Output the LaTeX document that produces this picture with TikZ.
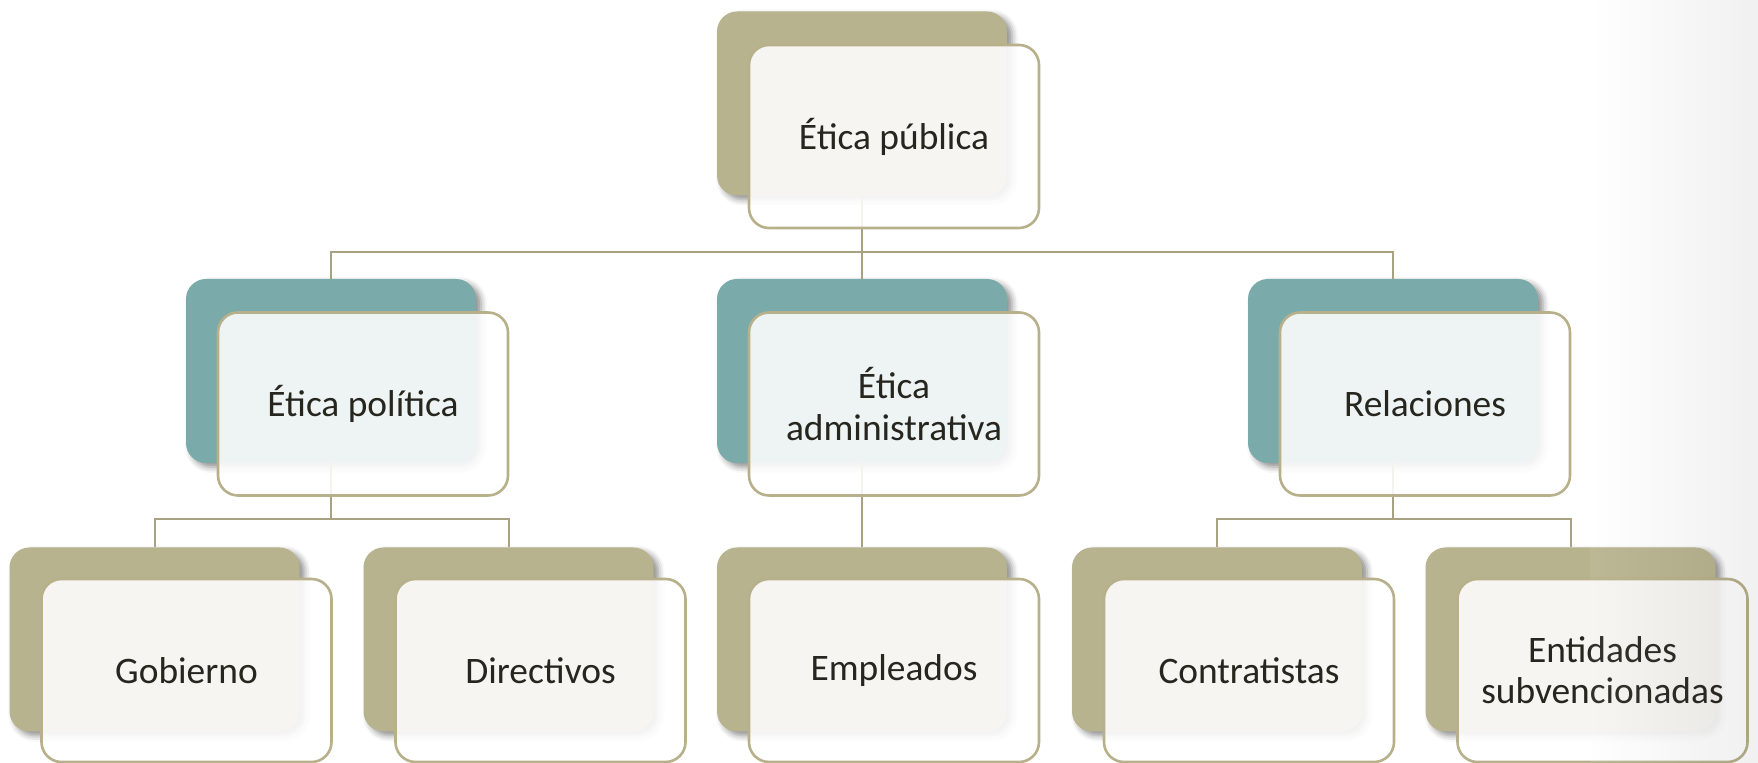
\documentclass[tikz,border=0pt]{standalone}
\usepackage{fontspec}
\setmainfont{Carlito}
\usepackage{tikz}
\usetikzlibrary{shadows.blur}
\usepackage{xcolor}
\definecolor{khakicol}{HTML}{B8B38F}
\definecolor{tealcol}{HTML}{7AABAA}
\definecolor{framecol}{HTML}{B7B08B}
\definecolor{linecol}{HTML}{A8A283}
\definecolor{textcol}{HTML}{26251E}
\tikzstyle{back box}=[rounded corners=10pt,minimum width=145pt,minimum height=92pt,inner sep=0pt,
  blur shadow={shadow xshift=2.5pt,shadow yshift=-2pt,shadow blur radius=3pt,shadow opacity=45}]
\tikzstyle{front box}=[rounded corners=10pt,minimum width=145pt,minimum height=91.5pt,inner sep=0pt,
  draw=framecol,line width=1.3pt,fill=white,fill opacity=0.88,text opacity=1,
  align=center,text=textcol,font=\fontsize{18.7}{20.6}\selectfont]
\tikzstyle{link}=[draw=linecol,line width=1pt]

\begin{document}
\begin{tikzpicture}[x=0.5pt,y=-0.5pt]
  \def\dx{32}
  \def\dy{31}
  \useasboundingbox (0,0) rectangle (1758,763);

  % back boxes
  \node[back box,fill=khakicol] (pub-b) at (862,103.5) {};
  \node[back box,fill=tealcol] (pol-b) at (331,371) {};
  \node[back box,fill=tealcol] (adm-b) at (862,371) {};
  \node[back box,fill=tealcol] (rel-b) at (1393,371) {};
  \node[back box,fill=khakicol] (gob-b) at (154.5,639.5) {};
  \node[back box,fill=khakicol] (dir-b) at (508.5,639.5) {};
  \node[back box,fill=khakicol] (emp-b) at (862,639.5) {};
  \node[back box,fill=khakicol] (con-b) at (1217,639.5) {};
  \node[back box,fill=khakicol] (ent-b) at (1570.5,639.5) {};

  % connectors
  \coordinate (fork1) at (862,252);
  \coordinate (fork2) at (331,519);
  \coordinate (fork3) at (1393,519);
  \draw[link] (pub-b.south) -- (adm-b.north);
  \draw[link] (pol-b.north) |- (fork1) -| (rel-b.north);
  \draw[link] (pol-b.south) -- (fork2);
  \draw[link] (gob-b.north) |- (fork2) -| (dir-b.north);
  \draw[link] (adm-b.south) -- (emp-b.north);
  \draw[link] (rel-b.south) -- (fork3);
  \draw[link] (con-b.north) |- (fork3) -| (ent-b.north);

  % front boxes
  \node[front box] (pub) at ([shift={(\dx,\dy+2)}]pub-b) {Ética pública};
  \node[front box] (pol) at ([shift={(\dx,\dy+2)}]pol-b) {Ética política};
  \node[front box] (adm) at ([shift={(\dx,\dy+2)}]adm-b) {Ética\\administrativa};
  \node[front box] (rel) at ([shift={(\dx,\dy+2)}]rel-b) {Relaciones};
  \node[front box] (gob) at ([shift={(\dx,\dy)}]gob-b) {Gobierno};
  \node[front box] (dir) at ([shift={(\dx,\dy)}]dir-b) {Directivos};
  \node[front box] (emp) at ([shift={(\dx,\dy)}]emp-b) {Empleados};
  \node[front box] (con) at ([shift={(\dx,\dy)}]con-b) {Contratistas};
  \node[front box] (ent) at ([shift={(\dx,\dy)}]ent-b) {Entidades\\subvencionadas};

  % grey tint at the right edge
  \shade[left color=white,right color=black,opacity=0.06] (1590,0) rectangle (1758,763);
\end{tikzpicture}
\end{document}
